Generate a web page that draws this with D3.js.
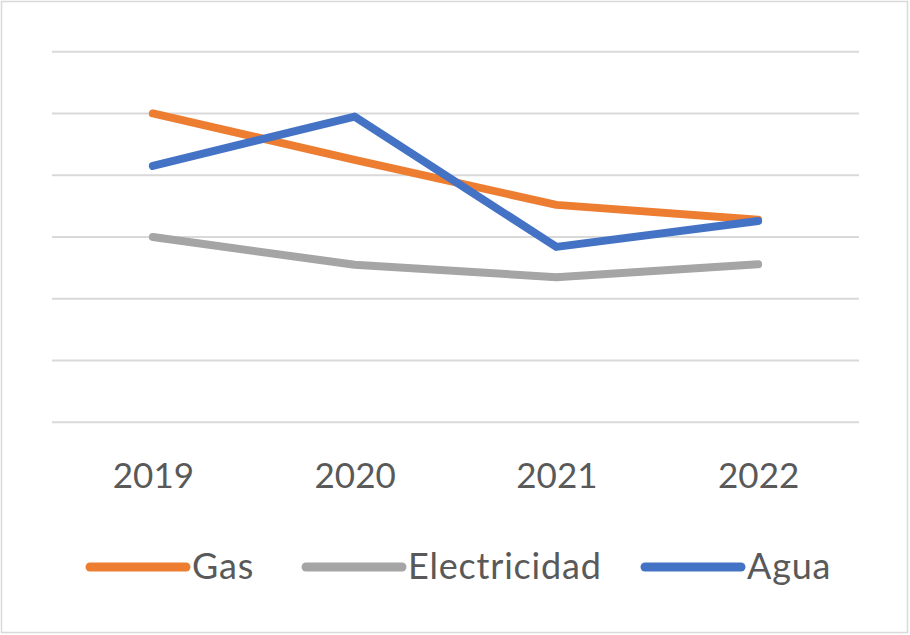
<!DOCTYPE html>
<html>
<head>
<meta charset="utf-8">
<script src="https://cdn.jsdelivr.net/npm/d3@7"></script>
<style>
  body { margin: 0; background: #fff; }
  svg { display: block; font-family: Lato, "Liberation Sans", sans-serif; }
</style>
</head>
<body>
<div id="chart"></div>
<script>
const years = ["2019", "2020", "2021", "2022"];
const gas = [5.0, 4.25, 3.52, 3.28];
const electricidad = [3.0, 2.55, 2.35, 2.56];
const agua = [4.15, 4.95, 2.84, 3.26];
const gridTicks = [0, 1, 2, 3, 4, 5, 6];

const series = [
  { name: "Gas", values: gas, color: "#ED7D31" },
  { name: "Electricidad", values: electricidad, color: "#A5A5A5" },
  { name: "Agua", values: agua, color: "#4472C4" }
];

const width = 910, height = 635;
const plotLeft = 52, plotRight = 859, plotTop = 51.7, plotBottom = 422.3;

const svg = d3.select("#chart")
  .append("svg")
  .attr("width", width)
  .attr("height", height);

// outer border
svg.append("rect")
  .attr("x", 1.5).attr("y", 1.5)
  .attr("width", width - 4).attr("height", height - 4)
  .attr("fill", "#fff")
  .attr("stroke", "#d9d9d9")
  .attr("stroke-width", 1.5);

const x = d3.scalePoint()
  .domain(years)
  .range([plotLeft, plotRight])
  .padding(0.5);

const y = d3.scaleLinear()
  .domain([0, 6])
  .range([plotBottom, plotTop]);

// gridlines
svg.append("g")
  .selectAll("line")
  .data(gridTicks)
  .enter()
  .append("line")
  .attr("x1", plotLeft)
  .attr("x2", plotRight)
  .attr("y1", d => y(d))
  .attr("y2", d => y(d))
  .attr("stroke", "#d9d9d9")
  .attr("stroke-width", 2);

// x axis labels
const xAxis = svg.append("g")
  .attr("transform", `translate(0, ${plotBottom})`)
  .call(d3.axisBottom(x).tickSize(0).tickPadding(0));
xAxis.select(".domain").remove();
xAxis.selectAll("text")
  .attr("y", 66)
  .attr("dy", 0)
  .attr("fill", "#595959")
  .attr("font-size", "35px")
  .attr("font-family", "Lato, 'Liberation Sans', sans-serif");

// lines
const line = d3.line()
  .x((d, i) => x(years[i]))
  .y(d => y(d));

svg.append("g")
  .selectAll("path")
  .data(series)
  .enter()
  .append("path")
  .attr("d", d => line(d.values))
  .attr("fill", "none")
  .attr("stroke", d => d.color)
  .attr("stroke-width", 8)
  .attr("stroke-linecap", "round")
  .attr("stroke-linejoin", "round");

// legend
const legendX = [90, 306, 645];
const legend = svg.append("g")
  .selectAll("g")
  .data(series)
  .enter()
  .append("g")
  .attr("transform", (d, i) => `translate(${legendX[i]}, 567)`);

legend.append("line")
  .attr("x1", 0).attr("x2", 96)
  .attr("y1", 0).attr("y2", 0)
  .attr("stroke", d => d.color)
  .attr("stroke-width", 9)
  .attr("stroke-linecap", "round");

legend.append("text")
  .attr("x", 102)
  .attr("y", 12)
  .attr("fill", "#595959")
  .attr("font-size", "36px")
  .attr("letter-spacing", "0.8px")
  .text(d => d.name);
</script>
</body>
</html>
